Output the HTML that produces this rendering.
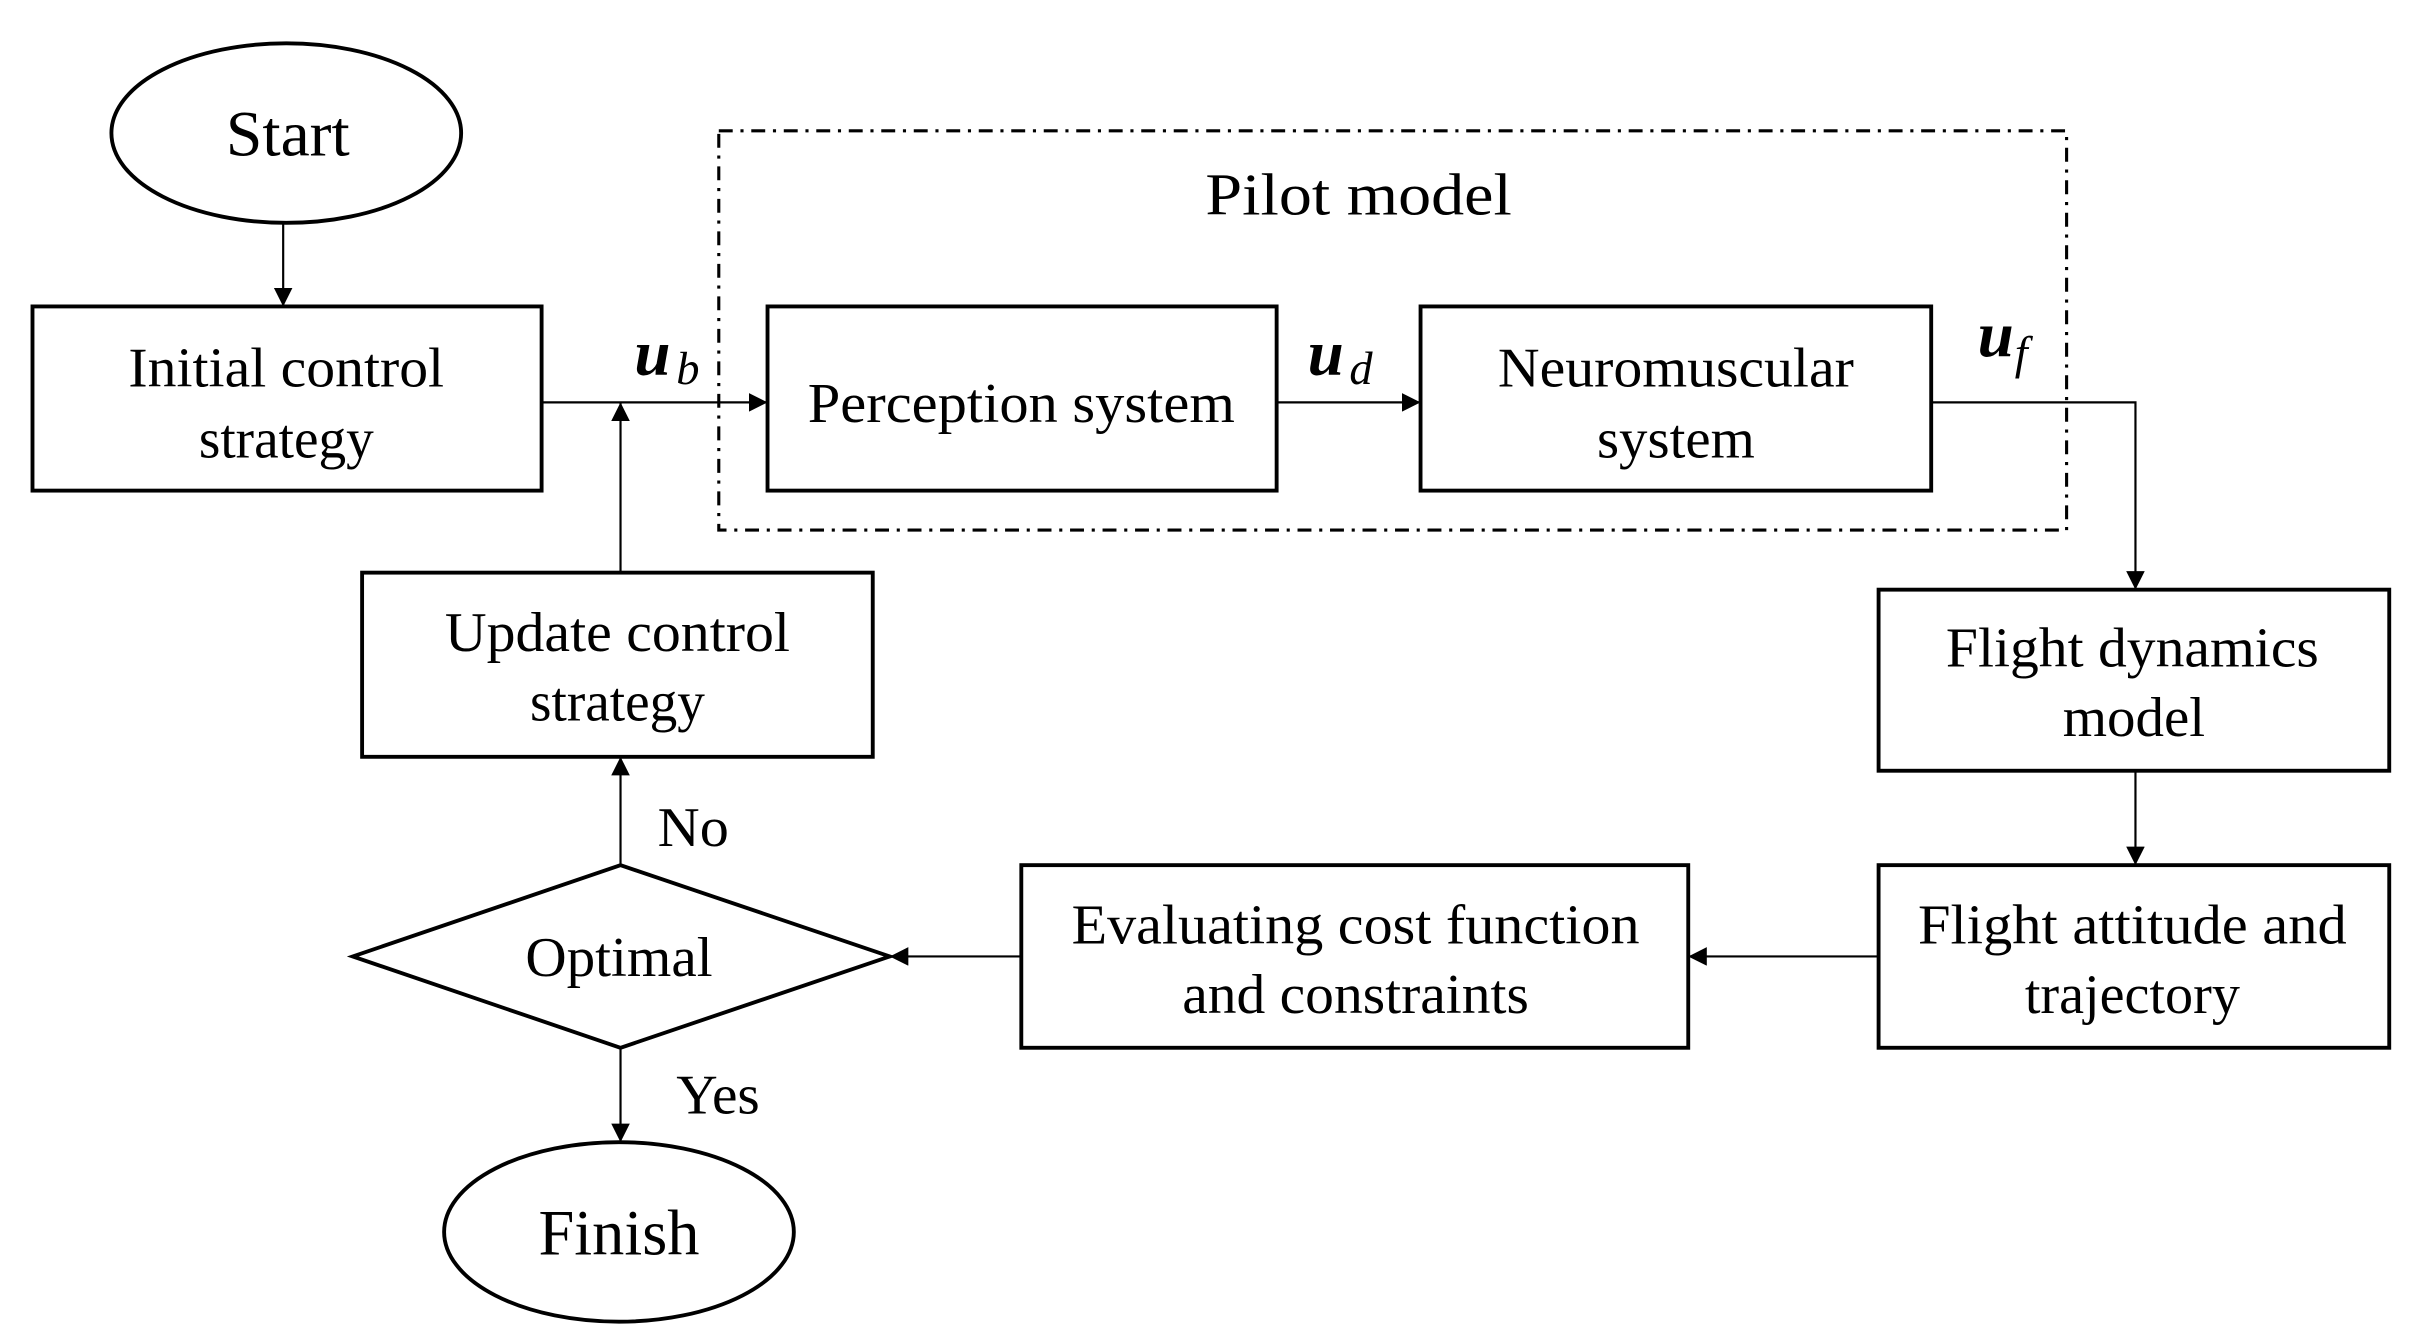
<!DOCTYPE html>
<html><head><meta charset="utf-8"><style>
html,body{margin:0;padding:0;background:#fff;}
svg{display:block;}
text{font-family:"Liberation Serif",serif;fill:#000;}
</style></head><body>
<svg width="2414" height="1331" viewBox="0 0 1560 860" preserveAspectRatio="none" xmlns="http://www.w3.org/2000/svg">
<defs>
<marker id="a" markerWidth="12" markerHeight="12" refX="12" refY="6" orient="auto" markerUnits="userSpaceOnUse">
<path d="M0,0 L12,6 L0,12 Z" fill="#000"/>
</marker>
</defs>
<g fill="none" stroke="#000">
<!-- dash box -->
<rect x="464.5" y="84.5" width="871" height="258" stroke-width="2" stroke-dasharray="9 5 2 5"/>
<!-- boxes -->
<g stroke-width="2.5">
<ellipse cx="185" cy="86" rx="113" ry="58"/>
<ellipse cx="400" cy="796" rx="113" ry="58"/>
<rect x="21" y="198" width="329" height="119"/>
<rect x="496" y="198" width="329" height="119"/>
<rect x="918" y="198" width="330" height="119"/>
<rect x="1214" y="381" width="330" height="117"/>
<rect x="1214" y="559" width="330" height="118"/>
<rect x="660" y="559" width="431" height="118"/>
<rect x="234" y="370" width="330" height="119"/>
<path d="M228,618 L401,559 L575,618 L401,677 Z"/>
</g>
<!-- connectors -->
<g stroke-width="1.4">
<line x1="183" y1="144" x2="183" y2="198" marker-end="url(#a)"/>
<line x1="350" y1="260" x2="496" y2="260" marker-end="url(#a)"/>
<line x1="825" y1="260" x2="918" y2="260" marker-end="url(#a)"/>
<polyline points="1248,260 1380,260 1380,381" marker-end="url(#a)"/>
<line x1="1380" y1="498" x2="1380" y2="559" marker-end="url(#a)"/>
<line x1="1214" y1="618" x2="1091" y2="618" marker-end="url(#a)"/>
<line x1="660" y1="618" x2="575" y2="618" marker-end="url(#a)"/>
<line x1="401" y1="559" x2="401" y2="489" marker-end="url(#a)"/>
<line x1="401" y1="370" x2="401" y2="260" marker-end="url(#a)"/>
<line x1="401" y1="677" x2="401" y2="738" marker-end="url(#a)"/>
</g>
</g>
<g font-size="36" dominant-baseline="central" text-anchor="middle">
<text x="186" y="87" font-size="42" textLength="80" lengthAdjust="spacingAndGlyphs">Start</text>
<text x="185" y="238" textLength="204" lengthAdjust="spacingAndGlyphs">Initial control</text>
<text x="185" y="284" textLength="113" lengthAdjust="spacingAndGlyphs">strategy</text>
<text x="878" y="126" font-size="38" textLength="198" lengthAdjust="spacingAndGlyphs">Pilot model</text>
<text x="660" y="261" textLength="276" lengthAdjust="spacingAndGlyphs">Perception system</text>
<text x="1083" y="238" textLength="230" lengthAdjust="spacingAndGlyphs">Neuromuscular</text>
<text x="1083" y="284" textLength="102" lengthAdjust="spacingAndGlyphs">system</text>
<text x="1378" y="419" textLength="241" lengthAdjust="spacingAndGlyphs">Flight dynamics</text>
<text x="1379" y="464" textLength="92" lengthAdjust="spacingAndGlyphs">model</text>
<text x="1378" y="598" textLength="277" lengthAdjust="spacingAndGlyphs">Flight attitude and</text>
<text x="1378" y="643" textLength="139" lengthAdjust="spacingAndGlyphs">trajectory</text>
<text x="876" y="598" textLength="367" lengthAdjust="spacingAndGlyphs">Evaluating cost function</text>
<text x="876" y="643" textLength="224" lengthAdjust="spacingAndGlyphs">and constraints</text>
<text x="399" y="409" textLength="223" lengthAdjust="spacingAndGlyphs">Update control</text>
<text x="399" y="454" textLength="113" lengthAdjust="spacingAndGlyphs">strategy</text>
<text x="400" y="619" textLength="121" lengthAdjust="spacingAndGlyphs">Optimal</text>
<text x="448" y="535" textLength="46" lengthAdjust="spacingAndGlyphs">No</text>
<text x="464" y="708" textLength="54" lengthAdjust="spacingAndGlyphs">Yes</text>
<text x="400" y="797" font-size="42" textLength="104" lengthAdjust="spacingAndGlyphs">Finish</text>
</g>
<g font-style="italic">
<text x="410" y="242" font-size="42" font-weight="bold">u</text>
<text x="437" y="248" font-size="30">b</text>
<text x="845" y="242" font-size="42" font-weight="bold">u</text>
<text x="872" y="248" font-size="30">d</text>
<text x="1278" y="230" font-size="42" font-weight="bold">u</text>
<text x="1302" y="238" font-size="30">f</text>
</g>
</svg>
</body></html>
